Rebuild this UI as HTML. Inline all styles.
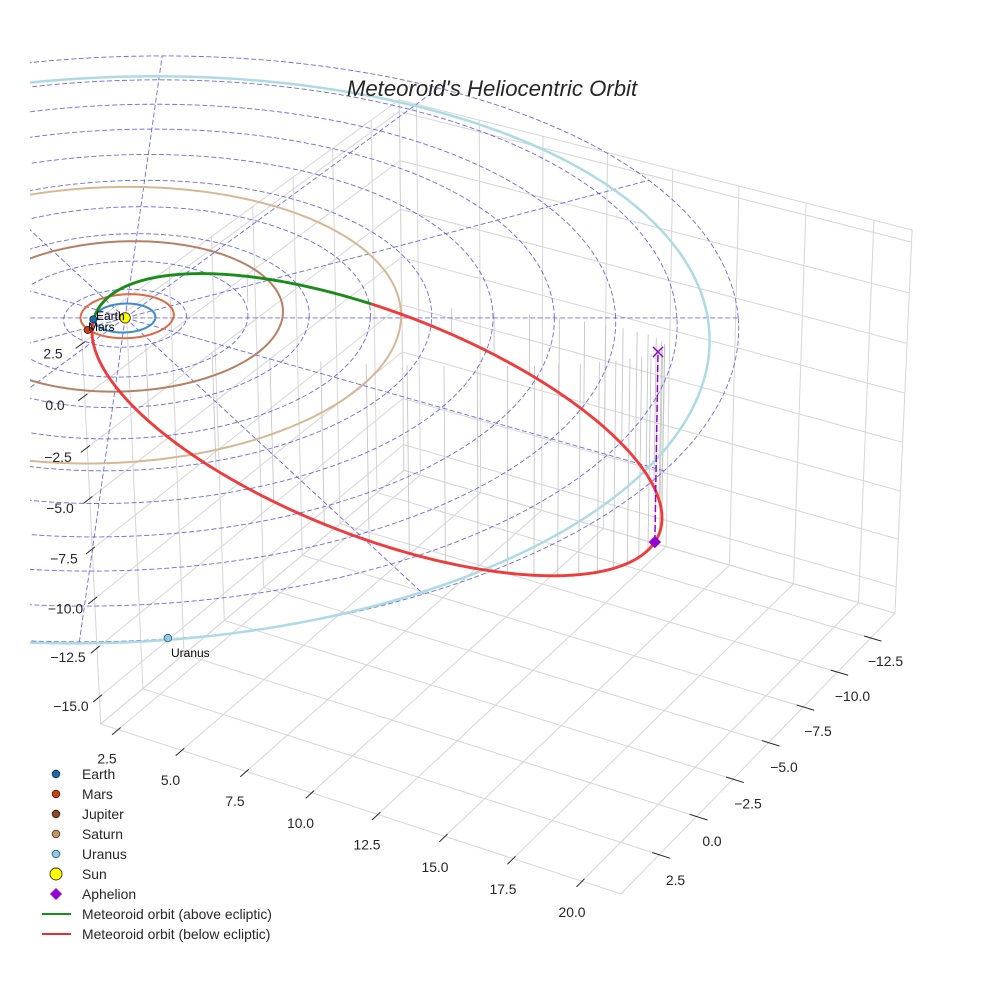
<!DOCTYPE html>
<html><head><meta charset="utf-8">
<style>
html,body{margin:0;padding:0;background:#fff;}
svg{display:block;}
text{font-family:"Liberation Sans",Arial,sans-serif;fill:#262626;}
</style></head>
<body>
<svg id="s" width="984" height="984" viewBox="0 0 984 984" xmlns="http://www.w3.org/2000/svg">
<defs><clipPath id="cp"><rect x="30" y="0" width="954" height="984"/></clipPath></defs>
<rect width="984" height="984" fill="#fff"/>
<g id="grid" stroke="#d6d6d6" stroke-width="1" fill="none"></g>
<g id="ticks" stroke="#262626" stroke-width="1"></g>
<g id="plot" clip-path="url(#cp)">
  <g id="drops" stroke="#c6c6c6" stroke-width="0.9"></g>
  <g id="rings" stroke="#4646e0" stroke-width="0.9" stroke-dasharray="5 2.5" stroke-opacity="0.8" fill="none"></g>
  <g id="planets" fill="none"></g>
  <g id="meteor" fill="none"></g>
  <g id="marks"></g>
</g>

<text x="492" y="96" font-size="22.2" font-style="italic" text-anchor="middle">Meteoroid's Heliocentric Orbit</text>

<g font-size="12" fill="#000">
<text x="96" y="320" style="fill:#000">Earth</text>
<text x="88" y="331" style="fill:#000">Mars</text>
<text x="171" y="657" style="fill:#000">Uranus</text>
</g>

<g font-size="13.9" text-anchor="middle">
<text x="53" y="358.5">2.5</text>
<text x="55" y="410">0.0</text>
<text x="58" y="462">−2.5</text>
<text x="60" y="513">−5.0</text>
<text x="64" y="563.5">−7.5</text>
<text x="65.5" y="613.5">−10.0</text>
<text x="68" y="662">−12.5</text>
<text x="71" y="711">−15.0</text>

<text x="107" y="763.5">2.5</text>
<text x="170.5" y="785">5.0</text>
<text x="235" y="806">7.5</text>
<text x="300.5" y="828">10.0</text>
<text x="367" y="849.5">12.5</text>
<text x="435" y="872">15.0</text>
<text x="503" y="894">17.5</text>
<text x="572" y="917">20.0</text>

<text x="885.5" y="666">−12.5</text>
<text x="852.5" y="701">−10.0</text>
<text x="818" y="736">−7.5</text>
<text x="784" y="772">−5.0</text>
<text x="748" y="808.5">−2.5</text>
<text x="712" y="846">0.0</text>
<text x="675.5" y="885">2.5</text>
</g>

<g id="legend" font-size="13.9">
<circle cx="56" cy="774" r="3.8" fill="#1f6aa5" stroke="#0d2f4d" stroke-width="0.8"/>
<circle cx="56" cy="794" r="3.8" fill="#c84115" stroke="#4a1a08" stroke-width="0.8"/>
<circle cx="56" cy="814" r="3.8" fill="#8c4a2a" stroke="#3a1e10" stroke-width="0.8"/>
<circle cx="56" cy="834" r="3.8" fill="#c2946a" stroke="#4a3828" stroke-width="0.8"/>
<circle cx="56" cy="854" r="3.8" fill="#8ecbe0" stroke="#2e5a70" stroke-width="0.8"/>
<circle cx="56" cy="874" r="6" fill="#ffff00" stroke="#333" stroke-width="0.9"/>
<polygon points="56,888 62,894 56,900 50,894" fill="#9400d3"/>
<line x1="42" y1="914" x2="71" y2="914" stroke="#1a8c1a" stroke-width="2"/>
<line x1="42" y1="934" x2="71" y2="934" stroke="#ee2b2b" stroke-width="2"/>
<text x="82" y="779">Earth</text>
<text x="82" y="799">Mars</text>
<text x="82" y="819">Jupiter</text>
<text x="82" y="839">Saturn</text>
<text x="82" y="859">Uranus</text>
<text x="82" y="879">Sun</text>
<text x="82" y="899">Aphelion</text>
<text x="82" y="919">Meteoroid orbit (above ecliptic)</text>
<text x="82" y="939">Meteoroid orbit (below ecliptic)</text>
</g>
</svg>
<script>
(function(){
const f=5018,PX=512,PY=477,D0=163.7,UC=12.62,H=5.19,C=Math.cos(Math.PI/6),S=0.5;
function P(u,v,z){const d=C*v-S*z+D0;return [PX+f*(u-UC)/d, PY-f*(S*v+C*z+H)/d];}
function W(X,Y,Z){return [C*X-S*Y, -S*X-C*Y, 0.754*Z];}
function PD(X,Y,Z){const w=W(X,Y,Z);return P(w[0],w[1],w[2]);}
const NS='http://www.w3.org/2000/svg';
function el(parent,tag,attrs){const e=document.createElementNS(NS,tag);for(const k in attrs)e.setAttribute(k,attrs[k]);parent.appendChild(e);return e;}
function line(g,a,b,attrs){return el(g,'line',Object.assign({x1:a[0].toFixed(2),y1:a[1].toFixed(2),x2:b[0].toFixed(2),y2:b[1].toFixed(2)},attrs||{}));}
function path(g,pts,attrs){let d='';pts.forEach((p,i)=>{d+=(i?'L':'M')+p[0].toFixed(2)+' '+p[1].toFixed(2);});return el(g,'path',Object.assign({d:d,fill:'none'},attrs||{}));}
const $=id=>document.getElementById(id);

// Box
const X0=1.81,X1=21.39,Y0=-14.35,Y1=5.0,Z0=-16.4,Z1=3.09;
const xt=[2.5,5,7.5,10,12.5,15,17.5,20], yt=[-12.5,-10,-7.5,-5,-2.5,0,2.5], zt=[-15,-12.5,-10,-7.5,-5,-2.5,0,2.5];
const g=$('grid');
xt.forEach(X=>{line(g,PD(X,Y0,Z0),PD(X,Y1,Z0));line(g,PD(X,Y0,Z0),PD(X,Y0,Z1));});
yt.forEach(Y=>{line(g,PD(X0,Y,Z0),PD(X1,Y,Z0));line(g,PD(X0,Y,Z0),PD(X0,Y,Z1));});
zt.forEach(Z=>{line(g,PD(X0,Y0,Z),PD(X0,Y1,Z));line(g,PD(X0,Y0,Z),PD(X1,Y0,Z));});
path(g,[PD(X0,Y0,Z0),PD(X1,Y0,Z0),PD(X1,Y1,Z0),PD(X0,Y1,Z0),PD(X0,Y0,Z0)]);
path(g,[PD(X0,Y0,Z0),PD(X0,Y1,Z0),PD(X0,Y1,Z1),PD(X0,Y0,Z1),PD(X0,Y0,Z0)]);
path(g,[PD(X0,Y0,Z0),PD(X1,Y0,Z0),PD(X1,Y0,Z1),PD(X0,Y0,Z1),PD(X0,Y0,Z0)]);
// ticks
const t=$('ticks');
xt.forEach(X=>line(t,PD(X,Y1+0.36,Z0),PD(X,Y1-0.15,Z0)));
yt.forEach(Y=>line(t,PD(X1+0.4,Y,Z0),PD(X1-0.25,Y,Z0)));
zt.forEach(Z=>line(t,PD(X0,Y1+0.36,Z),PD(X0,Y1-0.15,Z)));

// rings
const r=$('rings');
for(let k=1;k<=10;k++){const R=2*k,pts=[];for(let i=0;i<=360;i++){const a=i*Math.PI/180;pts.push(P(R*Math.cos(a),R*Math.sin(a),0));}path(r,pts);}
for(let k=0;k<12;k++){const a=k*Math.PI/6;line(r,P(0,0,0),P(20*Math.cos(a),20*Math.sin(a),0));}

// planet orbits
const pl=$('planets');
function ell(a,e,w,col,lw){const pts=[];for(let i=0;i<=360;i++){const nu=i*Math.PI/180,rr=a*(1-e*e)/(1+e*Math.cos(nu)),ang=w*Math.PI/180+nu;pts.push(P(rr*Math.cos(ang),rr*Math.sin(ang),0));}path(pl,pts,{stroke:col,'stroke-width':lw});}
ell(19.19,0.0472,80.9,'#aedae4',2.5);
ell(9.537,0.0565,2.4,'#d6b896',2);
ell(5.203,0.0489,-75.7,'#b58065',2);
ell(1.524,0.0934,246,'#dc6a42',2);
ell(1.0,0.0167,12.9,'#3a8cc8',2);

// meteoroid
const n=[0.8,-0.6,0],m=[0.252,0.336,-0.908],p=1.828,e=0.908,tp=211.6*Math.PI/180;
function pos(th){const rr=p/(1+e*Math.cos(th-tp));return [rr*(Math.cos(th)*n[0]+Math.sin(th)*m[0]),rr*(Math.cos(th)*n[1]+Math.sin(th)*m[1]),rr*(Math.cos(th)*n[2]+Math.sin(th)*m[2])];}
const dr=$('drops');
for(let k=0;k<36;k++){const M=k*Math.PI/18;let E=Math.PI;for(let i=0;i<60;i++){E-=(E-e*Math.sin(E)-M)/(1-e*Math.cos(E));}
 const nu=2*Math.atan2(Math.sqrt(1+e)*Math.sin(E/2),Math.sqrt(1-e)*Math.cos(E/2));const q=pos(nu+tp);
 line(dr,PD(q[0],q[1],q[2]),PD(q[0],q[1],0));}
const mt=$('meteor');
let gp=[],rp=[];
for(let i=0;i<=720;i++){const th=Math.PI+i*Math.PI/720;const q=pos(th);gp.push(PD(q[0],q[1],q[2]));}
for(let i=0;i<=720;i++){const th=i*Math.PI/720;const q=pos(th);rp.push(PD(q[0],q[1],q[2]));}
path(mt,rp,{stroke:'#ee2b2b','stroke-width':2.9,'stroke-opacity':0.92,'stroke-linejoin':'round'});
path(mt,gp,{stroke:'#1a8c1a','stroke-width':2.9,'stroke-linejoin':'round'});

// aphelion
const mk=$('marks');
const ap=pos(tp-Math.PI),a1=PD(ap[0],ap[1],ap[2]),a0=PD(ap[0],ap[1],0);
line(mk,a1,a0,{stroke:'#9400d3','stroke-width':1.5,'stroke-dasharray':'7 3'});
el(mk,'polygon',{points:[a1[0],a1[1]-6.2,a1[0]+6.2,a1[1],a1[0],a1[1]+6.2,a1[0]-6.2,a1[1]].join(' '),fill:'#9400d3'});
line(mk,[a0[0]-5,a0[1]-5],[a0[0]+5,a0[1]+5],{stroke:'#9400d3','stroke-width':1.5});
line(mk,[a0[0]-5,a0[1]+5],[a0[0]+5,a0[1]-5],{stroke:'#9400d3','stroke-width':1.5});
// planets markers
const sun=P(0,0,0);el(mk,'circle',{cx:sun[0],cy:sun[1],r:5.2,fill:'#ffff00',stroke:'#333','stroke-width':0.9});
const ea=P(-1.03,-0.10,0);el(mk,'circle',{cx:ea[0],cy:ea[1],r:3.6,fill:'#1f6aa5',stroke:'#0d2f4d','stroke-width':0.8});
const ma=P(-1.16,-0.83,0);el(mk,'circle',{cx:ma[0],cy:ma[1],r:3.6,fill:'#c84115',stroke:'#4a1a08','stroke-width':0.8});
const ur=P(2.57,-19.79,0);el(mk,'circle',{cx:ur[0],cy:ur[1],r:3.8,fill:'#8ecbe0',stroke:'#2e5a70','stroke-width':0.8});
})();
</script>
</body></html>
